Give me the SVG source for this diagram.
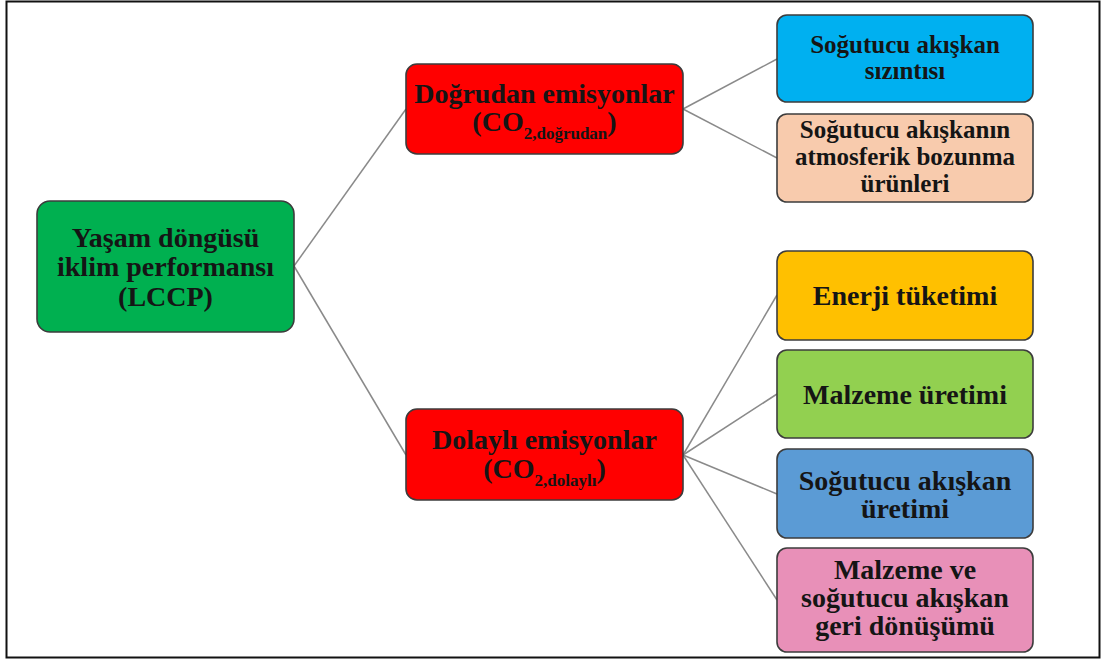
<svg xmlns="http://www.w3.org/2000/svg" width="1105" height="662" viewBox="0 0 1105 662">
<style>
.box{stroke:#3c3c3c;stroke-width:1.6}
.t{font-family:"Liberation Serif","Times New Roman",serif;font-weight:bold;fill:#151515;text-anchor:middle}
.big{font-size:28px}
.sm{font-size:25px}
.sub{font-size:17px}
.c{stroke:#8a8a8a;stroke-width:1.5;fill:none}
</style>
<rect x="0" y="0" width="1105" height="662" fill="#ffffff"/>
<rect x="6.5" y="1.5" width="1093" height="656" fill="none" stroke="#111" stroke-width="2"/>
<g id="connectors">
<line class="c" x1="294" y1="266" x2="406" y2="109"/>
<line class="c" x1="294" y1="266" x2="406" y2="455"/>
<line class="c" x1="683" y1="109" x2="777" y2="59"/>
<line class="c" x1="683" y1="109" x2="777" y2="158"/>
<line class="c" x1="683" y1="455" x2="777" y2="295"/>
<line class="c" x1="683" y1="455" x2="777" y2="394"/>
<line class="c" x1="683" y1="455" x2="777" y2="494"/>
<line class="c" x1="683" y1="455" x2="777" y2="600"/>
</g>
<g id="root">
<rect class="box" x="37" y="201" width="257" height="131" rx="13" fill="#00B050"/>
<text class="t big" x="165.5" y="247">Yaşam döngüsü</text>
<text class="t big" x="165.5" y="276">iklim performansı</text>
<text class="t big" x="165.5" y="306">(LCCP)</text>
</g>
<g id="direct">
<rect class="box" x="406" y="64" width="277" height="90" rx="11" fill="#FF0000"/>
<text class="t big" x="544.5" y="103">Doğrudan emisyonlar</text>
<text class="t big" x="544.5" y="131">(CO<tspan class="sub" dy="8">2,doğrudan</tspan><tspan dy="-8">)</tspan></text>
</g>
<g id="indirect">
<rect class="box" x="406" y="409" width="277" height="91" rx="11" fill="#FF0000"/>
<text class="t big" x="544.5" y="449">Dolaylı emisyonlar</text>
<text class="t big" x="544.5" y="478">(CO<tspan class="sub" dy="8">2,dolaylı</tspan><tspan dy="-8">)</tspan></text>
</g>
<g id="leak">
<rect class="box" x="777" y="15" width="256" height="87" rx="10" fill="#00B0F0"/>
<text class="t sm" x="905" y="53">Soğutucu akışkan</text>
<text class="t sm" x="905" y="79">sızıntısı</text>
</g>
<g id="decomp">
<rect class="box" x="777" y="114" width="256" height="88" rx="10" fill="#F8CBAD"/>
<text class="t sm" x="905" y="138">Soğutucu akışkanın</text>
<text class="t sm" x="905" y="165">atmosferik bozunma</text>
<text class="t sm" x="905" y="192">ürünleri</text>
</g>
<g id="energy">
<rect class="box" x="777" y="251" width="256" height="89" rx="10" fill="#FFC000"/>
<text class="t big" x="905" y="305">Enerji tüketimi</text>
</g>
<g id="material">
<rect class="box" x="777" y="350" width="256" height="88" rx="10" fill="#92D050"/>
<text class="t big" x="905" y="404">Malzeme üretimi</text>
</g>
<g id="refprod">
<rect class="box" x="777" y="449" width="256" height="89" rx="10" fill="#5B9BD5"/>
<text class="t big" x="905" y="490">Soğutucu akışkan</text>
<text class="t big" x="905" y="518">üretimi</text>
</g>
<g id="recycle">
<rect class="box" x="777" y="548" width="256" height="104" rx="10" fill="#E890B8"/>
<text class="t big" x="905" y="579">Malzeme ve</text>
<text class="t big" x="905" y="607">soğutucu akışkan</text>
<text class="t big" x="905" y="635">geri dönüşümü</text>
</g>
</svg>
